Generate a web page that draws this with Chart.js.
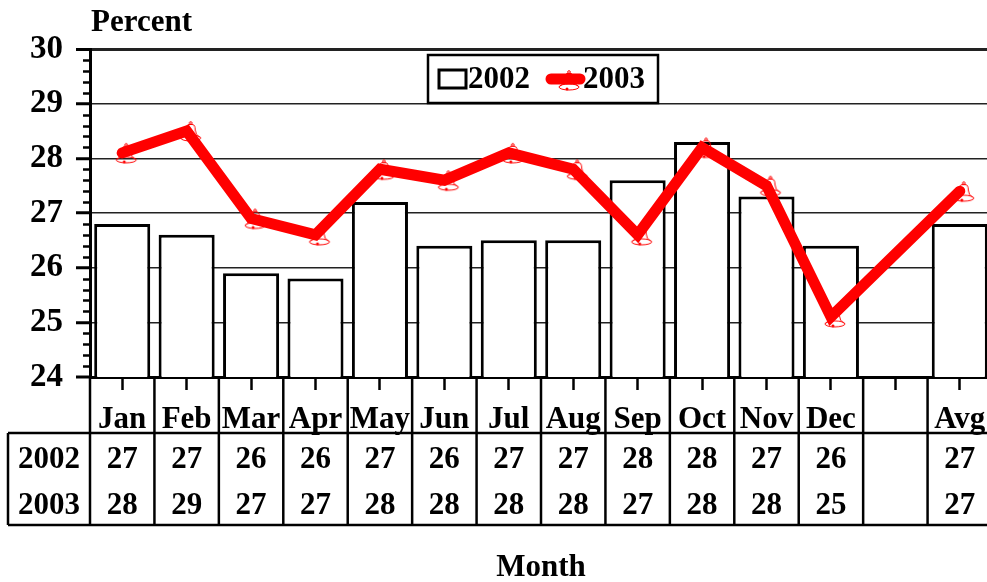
<!DOCTYPE html>
<html>
<head>
<meta charset="utf-8">
<script src="https://cdn.jsdelivr.net/npm/chart.js@4/dist/chart.umd.min.js"></script>
<style>
  html, body { margin: 0; padding: 0; background: #fff; overflow: hidden; }
  canvas { display: block; }
</style>
</head>
<body>
<canvas id="c" width="1013" height="582"></canvas>
<script>
// Monthly percentages, 2002 vs 2003
const months = ['Jan', 'Feb', 'Mar', 'Apr', 'May', 'Jun', 'Jul', 'Aug', 'Sep', 'Oct', 'Nov', 'Dec', '', 'Avg'];
const pct2002 = [26.8, 26.6, 25.9, 25.8, 27.2, 26.4, 26.5, 26.5, 27.6, 28.3, 27.3, 26.4, null, 26.8];
const pct2003 = [28.1, 28.5, 26.9, 26.6, 27.8, 27.6, 28.1, 27.8, 26.6, 28.2, 27.5, 25.1, null, 27.4];
const seriesNames = ['2002', '2003'];
const yMin = 24, yMax = 30, yStep = 1, yMinorStep = 0.2;
const yTitle = 'Percent';
const xTitle = 'Month';

const SERIF = "'Liberation Serif', 'Times New Roman', serif";
const BOLD = 'bold 31px ' + SERIF;

// Small bell marker used for the 2003 points
function makeBell() {
  const c = document.createElement('canvas');
  c.width = 34; c.height = 34;
  const g = c.getContext('2d');
  g.strokeStyle = '#ff0000';
  g.fillStyle = '#ff0000';
  g.lineWidth = 1;
  g.beginPath();
  g.arc(21, 9, 1.3, 0, Math.PI * 2);
  g.stroke();
  g.beginPath();
  g.moveTo(19, 10.5);
  g.quadraticCurveTo(16.5, 11, 16.5, 16);
  g.quadraticCurveTo(16.5, 20.5, 12, 23.5);
  g.moveTo(23, 10.5);
  g.quadraticCurveTo(25.5, 11, 25.5, 16);
  g.quadraticCurveTo(25.5, 20.5, 30, 23.5);
  g.moveTo(19, 10.5);
  g.lineTo(23, 10.5);
  g.stroke();
  g.beginPath();
  g.ellipse(21, 24, 10, 3, 0, 0, Math.PI * 2);
  g.stroke();
  g.beginPath();
  g.arc(19, 26, 1.5, 0, Math.PI * 2);
  g.fill();
  return c;
}
const bell = makeBell();

// Minor ticks on the value axis
const framePlugin = {
  id: 'frame',
  afterDraw(chart) {
    const ctx = chart.ctx, y = chart.scales.y, area = chart.chartArea;
    ctx.save();
    ctx.strokeStyle = '#000';
    ctx.lineWidth = 2.5;
    for (let v = yMin; v < yMax + 1e-9; v += yMinorStep) {
      if (Math.abs(v - Math.round(v)) < 1e-6) continue;
      const py = Math.round(y.getPixelForValue(v)) + 0.5;
      ctx.beginPath();
      ctx.moveTo(area.left - 7, py);
      ctx.lineTo(area.left, py);
      ctx.stroke();
    }
    ctx.restore();
  }
};

// Data table under the category axis, plus the axis titles
const tablePlugin = {
  id: 'dataTable',
  afterDraw(chart) {
    const ctx = chart.ctx, x = chart.scales.x, area = chart.chartArea;
    const n = months.length;
    const cw = (area.right - area.left) / n;
    const tableTop = 433, tableBottom = 525, rowYs = [460, 506];
    const W = chart.width;
    ctx.save();
    ctx.strokeStyle = '#000';
    ctx.lineWidth = 2.5;
    for (let i = 0; i <= n; i++) {
      const bx = area.left + i * cw;
      ctx.beginPath();
      ctx.moveTo(bx, area.bottom);
      ctx.lineTo(bx, tableBottom);
      ctx.stroke();
    }
    ctx.beginPath();
    ctx.moveTo(8, tableTop); ctx.lineTo(8, tableBottom);
    ctx.moveTo(8, tableTop); ctx.lineTo(W, tableTop);
    ctx.moveTo(8, tableBottom); ctx.lineTo(W, tableBottom);
    ctx.stroke();

    ctx.fillStyle = '#000';
    ctx.font = BOLD;
    ctx.textAlign = 'center';
    ctx.textBaseline = 'middle';
    const rows = [pct2002, pct2003];
    rows.forEach((vals, r) => {
      ctx.fillText(seriesNames[r], (8 + area.left) / 2, rowYs[r]);
      vals.forEach((v, i) => {
        if (v === null) return;
        ctx.fillText(String(Math.round(v)), x.getPixelForValue(i), rowYs[r]);
      });
    });

    ctx.fillText(xTitle, (area.left + area.right) / 2, 568);
    ctx.textAlign = 'left';
    ctx.fillText(yTitle, 91, 23);
    ctx.restore();
  }
};

// Boxed legend inside the plot
const legendPlugin = {
  id: 'boxLegend',
  afterDraw(chart) {
    const ctx = chart.ctx;
    ctx.save();
    ctx.fillStyle = '#fff';
    ctx.fillRect(428, 55, 230, 48);
    ctx.strokeStyle = '#000';
    ctx.lineWidth = 2.5;
    ctx.strokeRect(428, 55, 230, 48);
    // 2002 swatch
    ctx.lineWidth = 3;
    ctx.strokeRect(439, 70, 27, 18);
    // 2003 swatch
    ctx.strokeStyle = '#ff0000';
    ctx.lineWidth = 11;
    ctx.lineCap = 'round';
    ctx.beginPath();
    ctx.moveTo(551, 79);
    ctx.lineTo(580, 79);
    ctx.stroke();
    ctx.drawImage(bell, 565 - 17, 80 - 17);
    ctx.fillStyle = '#000';
    ctx.font = BOLD;
    ctx.textAlign = 'left';
    ctx.textBaseline = 'middle';
    ctx.fillText(seriesNames[0], 468, 80);
    ctx.fillText(seriesNames[1], 583, 80);
    ctx.restore();
  }
};

new Chart(document.getElementById('c'), {
  data: {
    labels: months,
    datasets: [
      {
        type: 'line',
        label: seriesNames[1],
        data: pct2003,
        order: 0,
        borderColor: '#ff0000',
        borderWidth: 11,
        borderCapStyle: 'round',
        borderJoinStyle: 'miter',
        tension: 0,
        spanGaps: true,
        pointStyle: bell,
        pointRadius: 10,
        pointHoverRadius: 10
      },
      {
        type: 'bar',
        label: seriesNames[0],
        data: pct2002,
        order: 1,
        backgroundColor: '#fff',
        borderColor: '#000',
        borderWidth: 3,
        barPercentage: 0.87,
        categoryPercentage: 1
      }
    ]
  },
  options: {
    responsive: false,
    animation: false,
    devicePixelRatio: 1,
    events: [],
    layout: { padding: { top: 49, right: 1, left: 0, bottom: 0 } },
    plugins: {
      legend: { display: false },
      tooltip: { enabled: false },
      title: { display: false }
    },
    scales: {
      x: {
        type: 'category',
        offset: true,
        border: { display: true, color: '#000', width: 3 },
        grid: {
          display: true,
          offset: false,
          drawOnChartArea: false,
          drawTicks: true,
          tickLength: 13,
          tickWidth: 2.5,
          tickColor: '#000'
        },
        ticks: {
          color: '#000',
          font: { family: SERIF, size: 31, weight: 'bold' },
          padding: 11,
          autoSkip: false,
          maxRotation: 0,
          minRotation: 0
        },
        afterFit(scale) {
          scale.height = 205;
          scale.paddingLeft = 0;
          scale.paddingRight = 0;
        }
      },
      y: {
        type: 'linear',
        min: yMin,
        max: yMax,
        border: { display: true, color: '#000', width: 3 },
        grid: {
          color: '#222',
          lineWidth: (c) => (c.tick && c.tick.value === yMax ? 3 : c.tick && c.tick.value === yMin ? 0 : 1.5),
          tickLength: 14,
          tickWidth: 3,
          tickColor: '#000'
        },
        ticks: {
          stepSize: yStep,
          color: '#000',
          font: { family: SERIF, size: 33, weight: 'bold' },
          padding: 13
        },
        afterFit(scale) {
          scale.width = 90;
          scale.paddingTop = 0;
          scale.paddingBottom = 0;
        }
      }
    }
  },
  plugins: [framePlugin, tablePlugin, legendPlugin]
});
</script>
</body>
</html>
